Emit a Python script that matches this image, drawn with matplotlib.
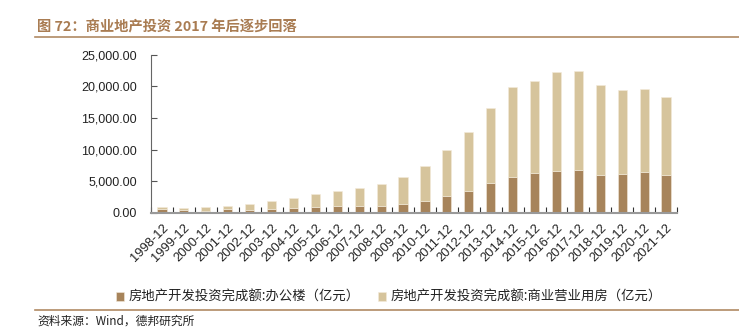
import matplotlib
matplotlib.use("Agg")
import matplotlib.pyplot as plt
from matplotlib.lines import Line2D
from matplotlib.ticker import FuncFormatter, FixedLocator

plt.rcParams['font.family'] = ['Liberation Sans', 'Noto Sans CJK SC', 'DejaVu Sans']

categories = ["1998-12", "1999-12", "2000-12", "2001-12", "2002-12", "2003-12",
              "2004-12", "2005-12", "2006-12", "2007-12", "2008-12", "2009-12",
              "2010-12", "2011-12", "2012-12", "2013-12", "2014-12", "2015-12",
              "2016-12", "2017-12", "2018-12", "2019-12", "2020-12", "2021-12"]
office = [620, 430, 270, 480, 430, 580, 640, 800, 1060, 1020, 1110, 1380,
          1850, 2590, 3370, 4650, 5640, 6210, 6530, 6760, 6000, 6160, 6490, 5970]
total = [900, 750, 900, 1060, 1380, 1800, 2380, 2910, 3400, 3830, 4580, 5580,
         7400, 10000, 12740, 16640, 19970, 20860, 22290, 22440, 20230, 19380, 19600, 18340]
commercial = [t - o for t, o in zip(total, office)]
yticks = [0, 5000, 10000, 15000, 20000, 25000]

label_office = "房地产开发投资完成额:办公楼（亿元）"
label_comm = "房地产开发投资完成额:商业营业用房（亿元）"
title = "图 72：商业地产投资 2017 年后逐步回落"
source = "资料来源：Wind，德邦研究所"

W, H = 739, 330
fig = plt.figure(figsize=(W / 100, H / 100), dpi=100)
ax = fig.add_axes([151 / W, (H - 212.5) / H, (677 - 151) / W, (212.5 - 55) / H])

dark = "#A7845B"
light = "#D6C49C"
x = list(range(len(categories)))
ax.bar(x, office, width=0.42, color=dark, edgecolor="#F3EADB", linewidth=0.4, label=label_office)
ax.bar(x, commercial, bottom=office, width=0.42, color=light, edgecolor="#F3EADB", linewidth=0.4,
       label=label_comm)

ax.set_xlim(-0.5, len(categories) - 0.5)
ax.set_ylim(0, 25000)
ax.set_yticks(yticks)
ax.yaxis.set_major_formatter(FuncFormatter(lambda v, p: f"{v:,.2f}"))
ax.tick_params(axis='y', direction='in', length=4, width=0.8, color='#555555',
               labelsize=9, pad=10, labelcolor='#222222')

ax.set_xticks(x)
ax.set_xticklabels(categories, rotation=45, ha='right', rotation_mode='anchor',
                   fontsize=9.3, color='#222222')
ax.tick_params(axis='x', which='major', length=0, pad=7)
ax.xaxis.set_minor_locator(FixedLocator([i - 0.5 for i in range(len(categories) + 1)]))
ax.tick_params(axis='x', which='minor', direction='in', length=4, width=0.8, color='#333333')

for s in ['top', 'right']:
    ax.spines[s].set_visible(False)
ax.spines['left'].set_color('#666666')
ax.spines['left'].set_linewidth(0.8)
ax.spines['bottom'].set_color('#999999')
ax.spines['bottom'].set_linewidth(1.5)

leg = fig.legend(loc='center', bbox_to_anchor=(389 / W, 1 - 297 / H), ncol=2, frameon=False,
                 handlelength=0.6, handleheight=0.6, handletextpad=0.3, columnspacing=1.4,
                 prop={'family': ['Noto Sans CJK SC'], 'size': 9.6})
for t in leg.get_texts():
    t.set_color('#222222')

fig.text(37 / W, 1 - 27 / H, title, fontsize=10.3, fontweight='bold', color='#A97C52',
         family=['Noto Sans CJK SC'], va='center', ha='left')
fig.add_artist(Line2D([35 / W, 1.0], [1 - 37 / H, 1 - 37 / H], color='#B08A64', linewidth=1.2))
fig.add_artist(Line2D([35 / W, 1.0], [1 - 310 / H, 1 - 310 / H], color='#B08A64', linewidth=1.2))
fig.text(37 / W, 1 - 321 / H, source, fontsize=8.5, color='#222222',
         family=['Noto Sans CJK SC', 'Liberation Sans'], va='center', ha='left')

fig.savefig("out.png", dpi=100)
